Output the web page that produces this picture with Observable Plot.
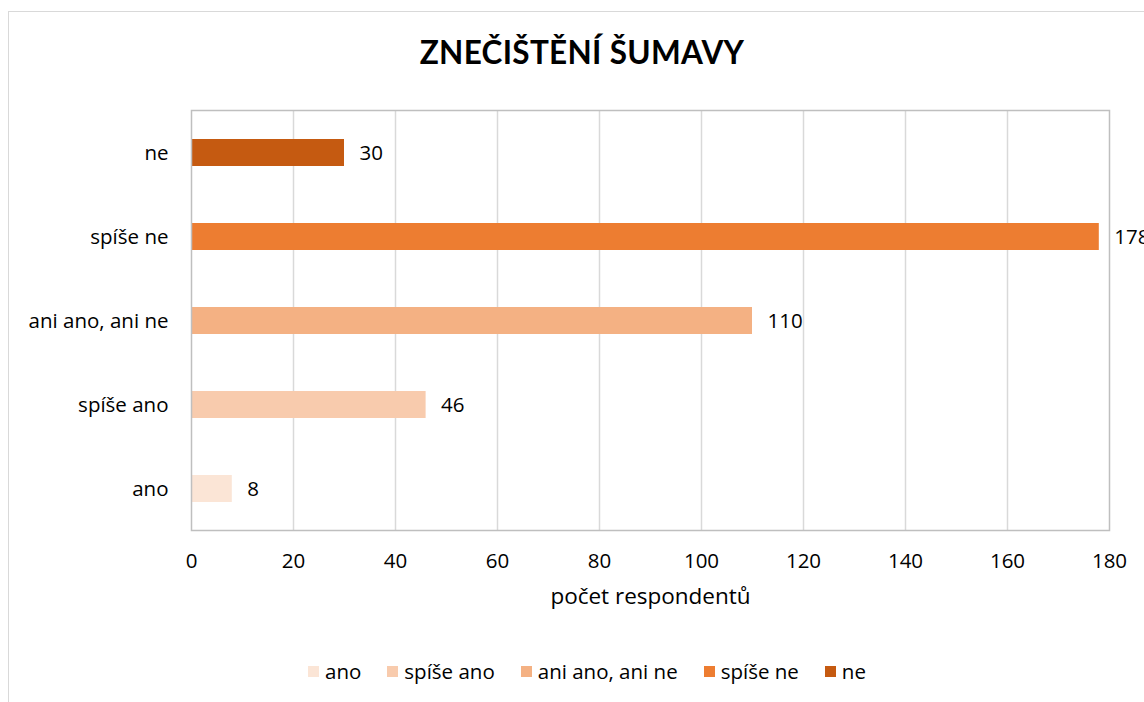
<!DOCTYPE html>
<html>
<head>
<meta charset="utf-8">
<script src="https://cdn.jsdelivr.net/npm/d3@7"></script>
<script src="https://cdn.jsdelivr.net/npm/@observablehq/plot@0.6"></script>
<style>
  html, body { margin: 0; padding: 0; background: #fff; }
  #wrap { position: relative; width: 1144px; height: 702px; overflow: hidden; font-family: "Open Sans", sans-serif; color: #000; }
  #border { position: absolute; left: 8px; top: 11px; width: 1200px; height: 760px; border: 1px solid #d9d9d9; box-sizing: border-box; }
  #title { position: absolute; left: 0; width: 1144px; top: 33px; text-align: center; font-family: Lato, sans-serif; font-weight: 700; font-size: 31.5px; letter-spacing: 0.3px; padding-left: 20px; box-sizing: border-box; }
  #chart { position: absolute; left: 0; top: 0; }
  #legend { position: absolute; top: 657px; left: 0; width: 1144px; display: flex; justify-content: center; font-size: 20.5px; padding-left: 30px; box-sizing: border-box; line-height: 28px; }
  .item { display: flex; align-items: center; margin: 0 13px; }
  .sw { width: 11px; height: 11px; margin-right: 6px; }
</style>
</head>
<body>
<div id="wrap">
  <div id="border"></div>
  <div id="chart"></div>
  <div id="title">ZNEČIŠTĚNÍ ŠUMAVY</div>
  <div id="legend"></div>
</div>
<script>
const categories = ["ano", "spíše ano", "ani ano, ani ne", "spíše ne", "ne"];
const values = [8, 46, 110, 178, 30];
const colors = ["#FBE5D6", "#F8CBAD", "#F4B183", "#ED7D31", "#C55A11"];
const xTicks = [0, 20, 40, 60, 80, 100, 120, 140, 160, 180];
const xLabel = "počet respondentů";

const data = categories.map((c, i) => ({ category: c, value: values[i] }));

const chart = Plot.plot({
  width: 1144,
  height: 702,
  marginLeft: 191,
  marginRight: 35,
  marginTop: 110,
  marginBottom: 172,
  style: { fontFamily: "'Open Sans', sans-serif", fontSize: "20.5px", color: "#000", background: "transparent", overflow: "visible" },
  x: { domain: [0, 180], ticks: xTicks },
  y: { domain: categories.slice().reverse(), padding: 0.68, paddingOuter: 0.34 },
  color: { domain: categories, range: colors },
  marks: [
    Plot.gridX(xTicks.slice(1, -1), { stroke: "#d9d9d9", strokeOpacity: 1, strokeWidth: 1.5 }),
    Plot.barX(data, { y: "category", x: "value", fill: "category" }),
    Plot.frame({ stroke: "#bfbfbf", strokeWidth: 1.5 }),
    Plot.text(data, { y: "category", x: "value", text: d => String(d.value), textAnchor: "start", dx: 15, fill: "#000", fontSize: 20.5 }),
    Plot.axisX({ ticks: xTicks, tickSize: 0, tickPadding: 23, fontSize: 20.5, label: null }),
    Plot.axisY({ tickSize: 0, tickPadding: 23, fontSize: 20.5, label: null }),
    Plot.text([xLabel], { text: d => d, frameAnchor: "bottom", dy: 73, fontSize: 22.5, fill: "#000" })
  ]
});
document.getElementById("chart").appendChild(chart);

const legend = document.getElementById("legend");
categories.forEach((c, i) => {
  const it = document.createElement("div");
  it.className = "item";
  const sw = document.createElement("div");
  sw.className = "sw";
  sw.style.background = colors[i];
  const t = document.createElement("span");
  t.textContent = c;
  it.appendChild(sw);
  it.appendChild(t);
  legend.appendChild(it);
});
</script>
</body>
</html>
